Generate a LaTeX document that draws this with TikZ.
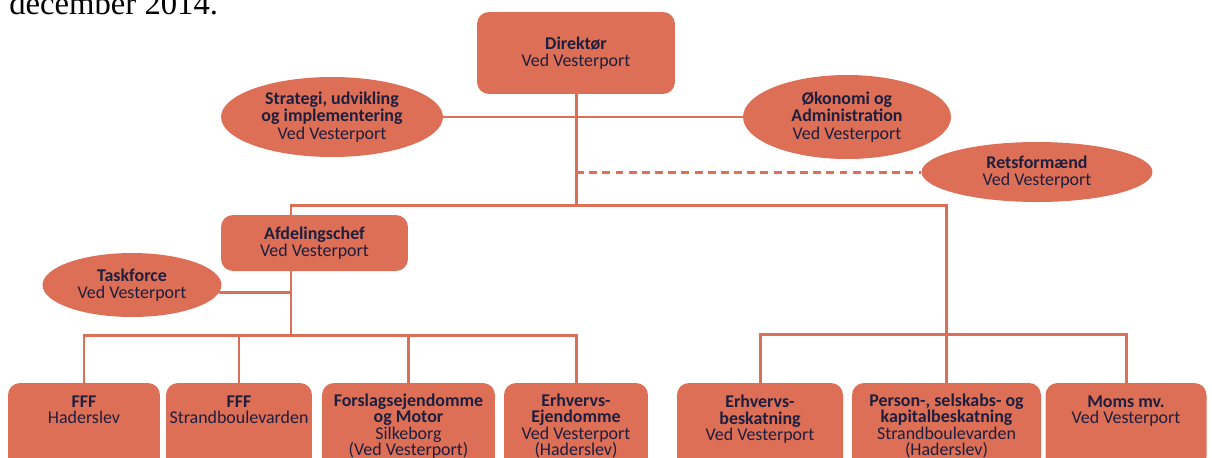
\documentclass[tikz,border=0pt]{standalone}
\usepackage{fontspec}
\setmainfont{Carlito}
\newfontfamily\brevfont{Liberation Serif}
\usetikzlibrary{shapes.geometric}
\definecolor{orgfarve}{RGB}{220,111,86}
\definecolor{orgtekst}{RGB}{30,30,62}

\begin{document}
\begin{tikzpicture}[x=0.02cm, y=-0.02cm,
	enhed/.style={fill=orgfarve, rounded corners=0.24cm, text=orgtekst, align=center, inner sep=0pt, font=\fontsize{10.2}{10}\selectfont},
	bund/.style={enhed, minimum height=1.72cm, font=\fontsize{10.2}{9.4}\selectfont},
	oval/.style={ellipse, fill=orgfarve, text=orgtekst, align=center, inner sep=0pt, font=\fontsize{10.2}{9.9}\selectfont},
	linje/.style={draw=orgfarve, line width=1.7pt},
	stiplet/.style={linje, dash pattern=on 4.5pt off 3pt}]
	\useasboundingbox (0,0) rectangle (1212,457);
	\node[anchor=base west, inner sep=0pt, font=\brevfont\fontsize{18.6}{22}\selectfont] (dato) at (9,14) {december 2014.};
	% ledelse
	\node[enhed, minimum width=3.96cm, minimum height=1.64cm] (dir) at (576,53) {\textbf{Direktør}\\Ved Vesterport};
	\node[oval, minimum width=4.44cm, minimum height=1.6cm] (strat) at (332,117) {\textbf{Strategi, udvikling}\\\textbf{og implementering}\\Ved Vesterport};
	\node[oval, minimum width=4.16cm, minimum height=1.68cm] (oek) at (847,117) {\textbf{Økonomi og}\\\textbf{Administration}\\Ved Vesterport};
	\node[oval, minimum width=4.62cm, minimum height=1.2cm] (ret) at (1037,172) {\textbf{Retsformænd}\\Ved Vesterport};
	\node[enhed, minimum width=3.74cm, minimum height=1.12cm] (afd) at (314.5,243) {\textbf{Afdelingschef}\\Ved Vesterport};
	\node[oval, minimum width=3.58cm, minimum height=1.28cm] (task) at (132,285) {\textbf{Taskforce}\\Ved Vesterport};
	% kontorer
	\node[bund, minimum width=3.04cm] (ffh) at (84,426) {\textbf{FFF}\\Haderslev\\\mbox{}\\\mbox{}};
	\node[bund, minimum width=2.92cm] (ffs) at (239,426) {\textbf{FFF}\\Strandboulevarden\\\mbox{}\\\mbox{}};
	\node[bund, minimum width=3.46cm] (fors) at (408.5,426) {\textbf{Forslagsejendomme}\\\textbf{og Motor}\\Silkeborg\\(Ved Vesterport)};
	\node[bund, minimum width=2.88cm] (ejd) at (576,426) {\textbf{Erhvervs-}\\\textbf{Ejendomme}\\Ved Vesterport\\(Haderslev)};
	\node[bund, minimum width=3.32cm] (ebs) at (760,426) {\textbf{Erhvervs-}\\\textbf{beskatning}\\Ved Vesterport\\\mbox{}};
	\node[bund, minimum width=3.78cm] (pers) at (946.5,426) {\textbf{Person-, selskabs- og}\\\textbf{kapitalbeskatning}\\Strandboulevarden\\(Haderslev)};
	\node[bund, minimum width=3.22cm] (moms) at (1126,426) {\textbf{Moms mv.}\\Ved Vesterport\\\mbox{}\\\mbox{}};
	% forbindelser
	\coordinate (j1) at (291,205);
	\coordinate (j2) at (291,335);
	\coordinate (j3) at (946.5,334);
	\draw[linje] (dir) -- (dir |- j1);
	\draw[linje] (strat) -- (oek);
	\draw[stiplet] (dir |- ret) -- (ret);
	\draw[linje] (afd.north -| j1) -- (j1) -- (j1 -| pers) -- (pers);
	\draw[linje] (afd.south -| j1) -- (j2);
	\draw[linje] (task.-5) -- (task.-5 -| j1);
	\draw[linje] (ffh) |- (j2) -| (ejd);
	\foreach \n in {ffs, fors}
		\draw[linje] (\n) -- (\n |- j2);
	\draw[linje] (ebs) |- (j3) -| (moms);
\end{tikzpicture}
\end{document}
